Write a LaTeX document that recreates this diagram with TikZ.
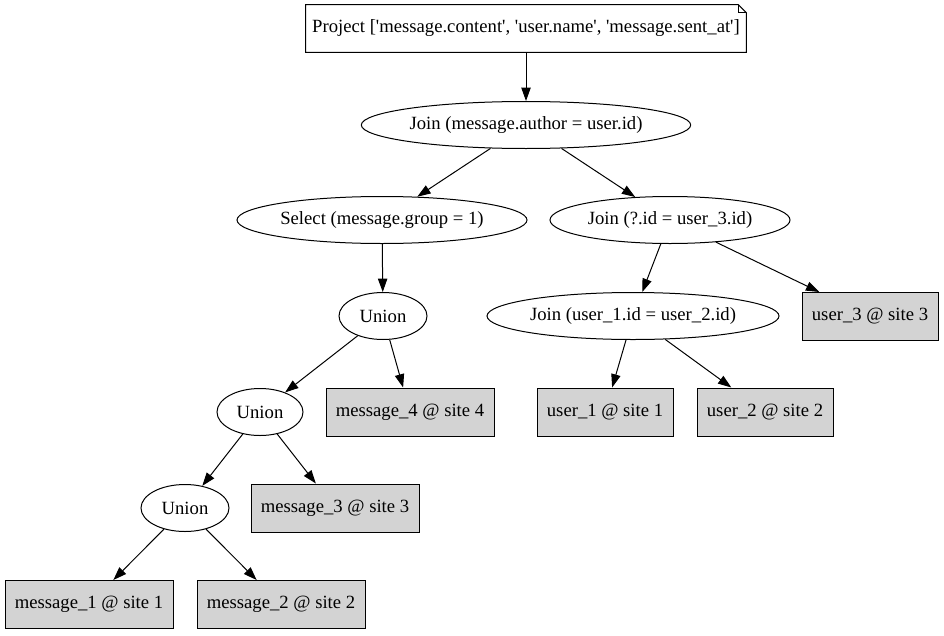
\documentclass[tikz,border=0pt]{standalone}
\usepackage{fontspec}
\setmainfont{Liberation Serif}[Ligatures=TeXOff]
\usetikzlibrary{shapes.geometric,arrows.meta}
\definecolor{lgray}{HTML}{D3D3D3}
\tikzset{
  every node/.style={font=\fontsize{14pt}{16pt}\selectfont, inner sep=0pt},
  oval/.style={ellipse, draw, line width=0.75pt, minimum height=35.25pt},
  tbl/.style={rectangle, draw, line width=0.75pt, fill=lgray, minimum height=36pt, minimum width=126pt},
  utbl/.style={tbl, minimum width=102pt},
  edge/.style={draw, line width=0.75pt, -{Triangle[length=10pt,width=7pt]}}
}
\begin{document}
\begin{tikzpicture}[x=0.75pt,y=-0.75pt]
\useasboundingbox (0,0) rectangle (944,635);
% note
\node[minimum width=330pt, minimum height=35.25pt] (proj) at (526,28.5) {Project ['message.content', 'user.name', 'message.sent\_at']};
\draw[line width=0.75pt] (proj.north west) -- ([xshift=-6pt]proj.north east) -- ([yshift=-6pt]proj.north east) -- (proj.south east) -- (proj.south west) -- cycle;
\draw[line width=0.75pt] ([xshift=-6pt]proj.north east) -- ([xshift=-6pt,yshift=-6pt]proj.north east) -- ([yshift=-6pt]proj.north east);

\node[oval, minimum width=246pt] (j1) at (526,125) {Join (message.author = user.id)};
\node[oval, minimum width=217.5pt] (sel) at (382,220) {Select (message.group = 1)};
\node[oval, minimum width=180pt] (j2) at (670,220) {Join (?.id = user\_3.id)};
\node[oval, minimum width=66pt] (u1) at (383,316) {Union};
\node[oval, minimum width=219pt] (j3) at (633,316) {Join (user\_1.id = user\_2.id)};
\node[utbl] (us3) at (870,316.5) {user\_3 @ site 3};
\node[oval, minimum width=64.5pt] (u2) at (260,412) {Union};
\node[tbl] (m4) at (410,412) {message\_4 @ site 4};
\node[utbl] (us1) at (605,412) {user\_1 @ site 1};
\node[utbl] (us2) at (765,412) {user\_2 @ site 2};
\node[oval, minimum width=66pt] (u3) at (185,508) {Union};
\node[tbl] (m3) at (335,508) {message\_3 @ site 3};
\node[tbl] (m1) at (89,604.5) {message\_1 @ site 1};
\node[tbl] (m2) at (281,604.5) {message\_2 @ site 2};

\draw[edge] (proj) -- (j1);
\draw[edge] (j1) -- (sel);
\draw[edge] (j1) -- (j2);
\draw[edge] (sel) -- (u1);
\draw[edge] (j2) -- (j3);
\draw[edge] (j2) -- (us3);
\draw[edge] (u1) -- (u2);
\draw[edge] (u1) -- (m4);
\draw[edge] (j3) -- (us1);
\draw[edge] (j3) -- (us2);
\draw[edge] (u2) -- (u3);
\draw[edge] (u2) -- (m3);
\draw[edge] (u3) -- (m1);
\draw[edge] (u3) -- (m2);
\end{tikzpicture}
\end{document}
